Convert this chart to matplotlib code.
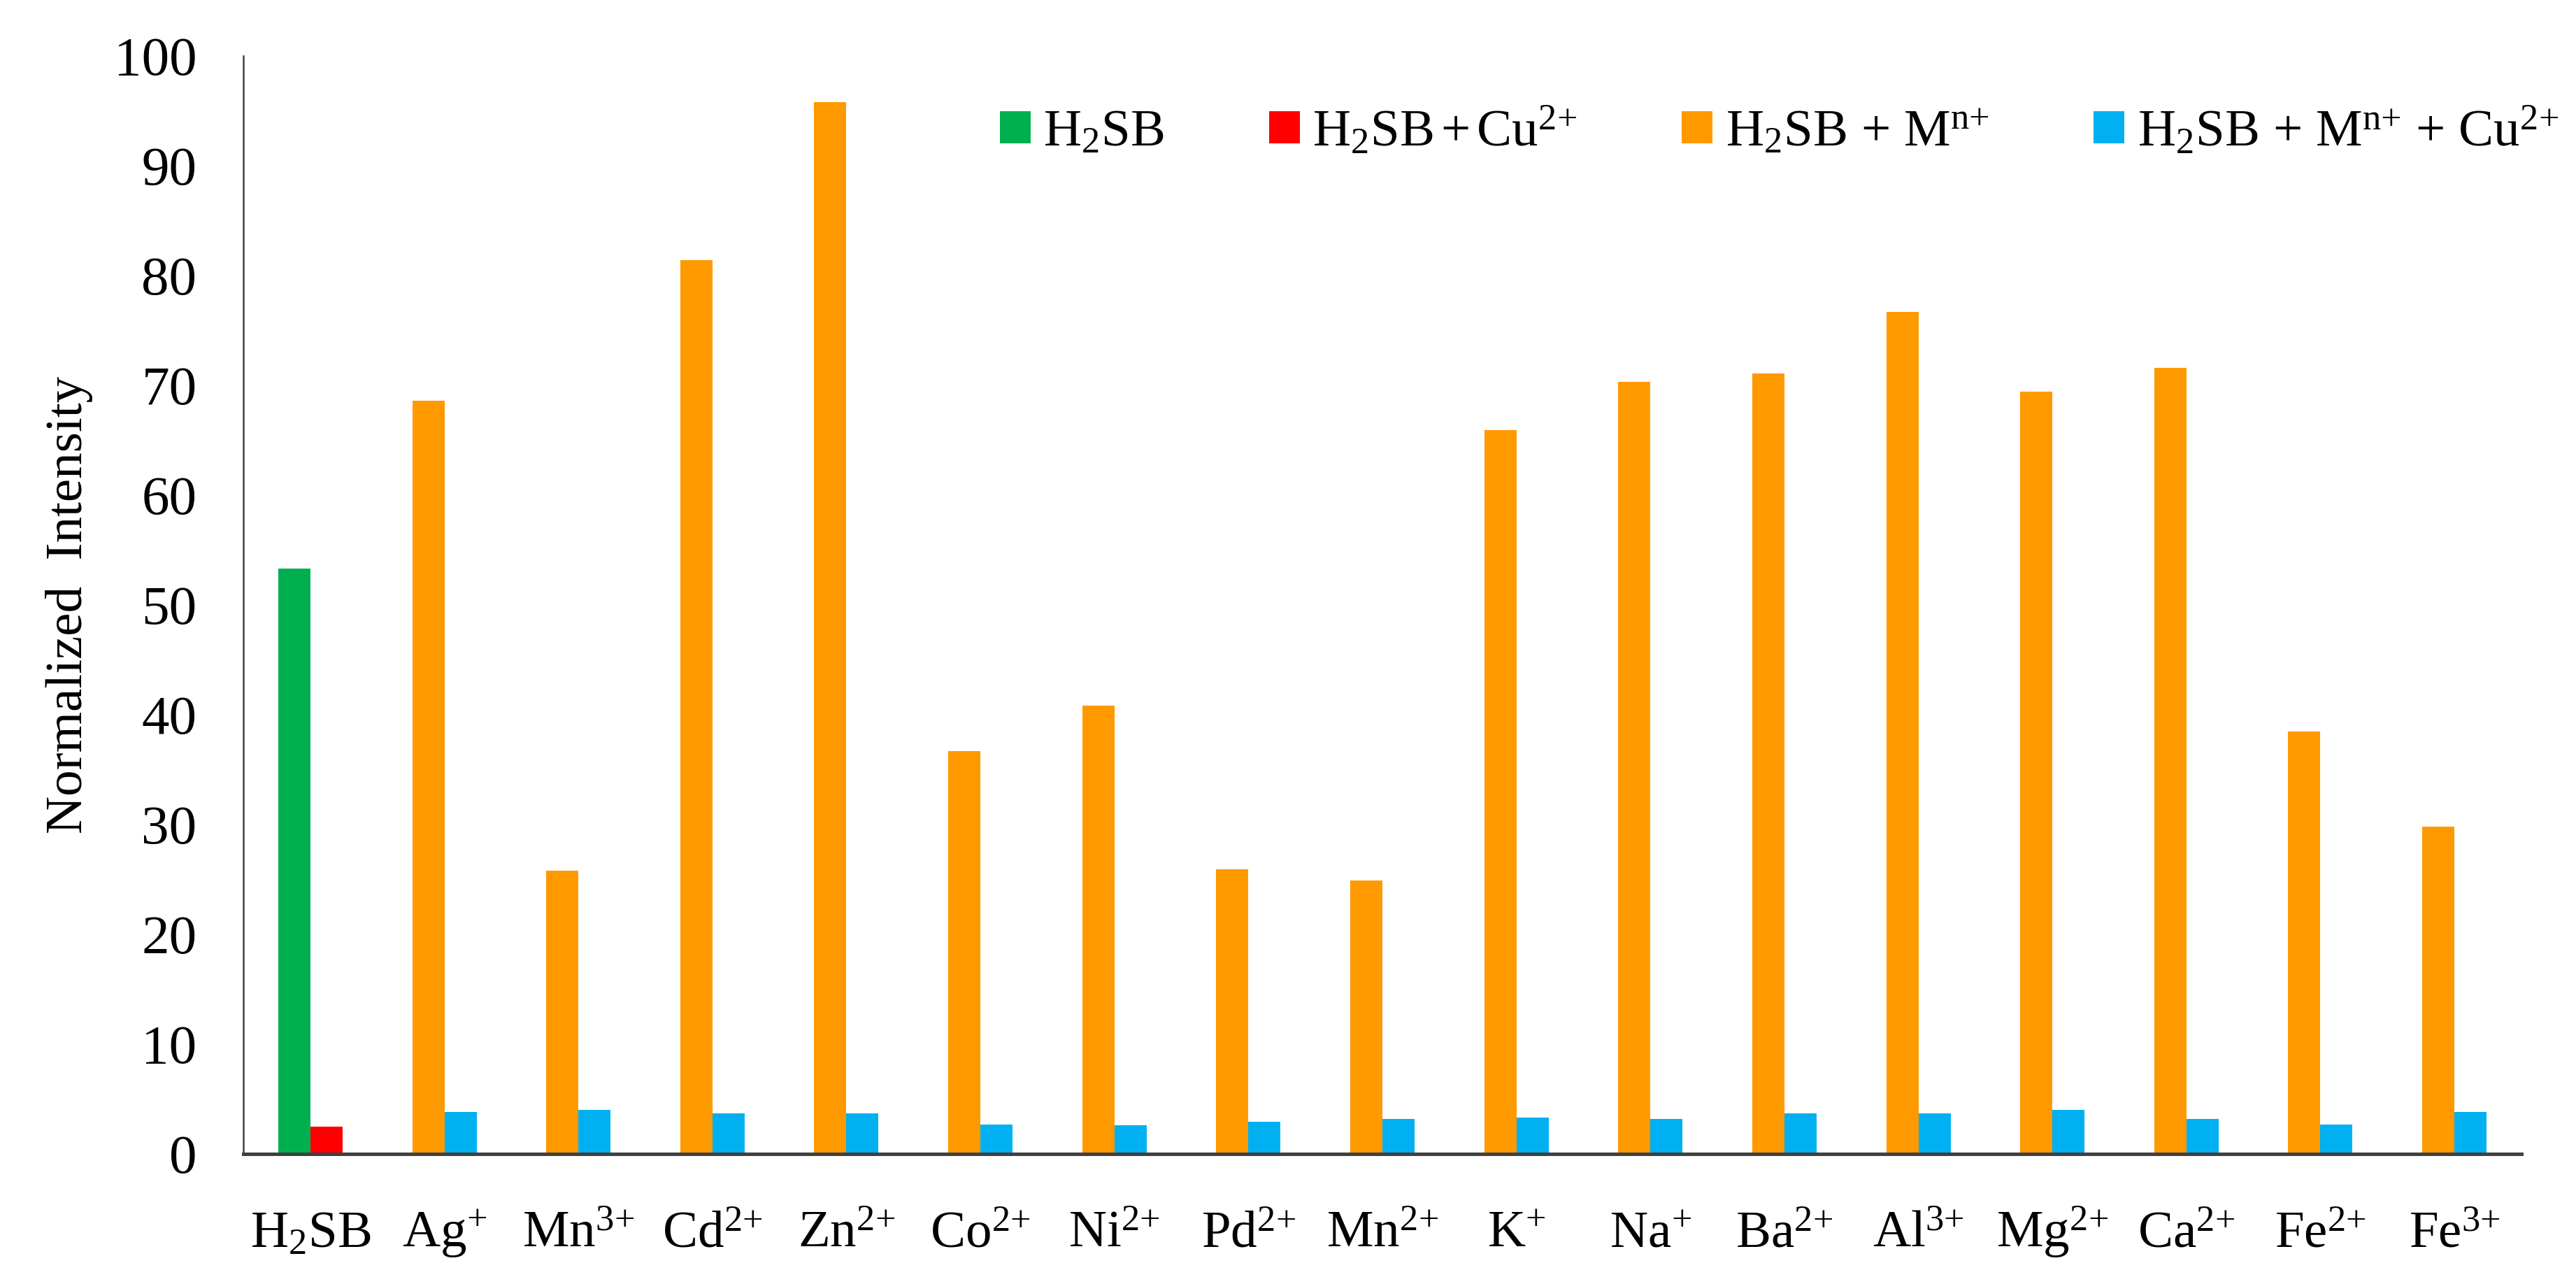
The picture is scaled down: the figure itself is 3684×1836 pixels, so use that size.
import matplotlib
matplotlib.use("Agg")
import matplotlib.pyplot as plt
import numpy as np

plt.rcParams['font.family'] = ['Liberation Serif', 'DejaVu Serif']
plt.rcParams['mathtext.fontset'] = 'custom'
plt.rcParams['mathtext.rm'] = 'Liberation Serif'
plt.rcParams['mathtext.it'] = 'Liberation Serif:italic'
plt.rcParams['mathtext.bf'] = 'Liberation Serif:bold'

categories = [r'H$_2$SB', r'Ag$^{+}$', r'Mn$^{3{+}}$', r'Cd$^{2{+}}$', r'Zn$^{2{+}}$', r'Co$^{2{+}}$',
              r'Ni$^{2{+}}$', r'Pd$^{2{+}}$', r'Mn$^{2{+}}$', r'K$^{+}$', r'Na$^{+}$', r'Ba$^{2{+}}$',
              r'Al$^{3{+}}$', r'Mg$^{2{+}}$', r'Ca$^{2{+}}$', r'Fe$^{2{+}}$', r'Fe$^{3{+}}$']

h2sb = [53.3] + [np.nan] * 16
h2sb_cu = [2.5] + [np.nan] * 16
h2sb_m = [np.nan, 68.6, 25.8, 81.4, 95.8, 36.7, 40.8, 25.9, 24.9, 65.9, 70.3, 71.1,
          76.7, 69.4, 71.6, 38.5, 29.8]
h2sb_m_cu = [np.nan, 3.8, 4.0, 3.7, 3.7, 2.7, 2.6, 2.9, 3.2, 3.3, 3.2, 3.7,
             3.7, 4.0, 3.2, 2.7, 3.8]

labels = [r'H$_2$SB', r'H$_2$SB$\,$+$\,$Cu$^{2{+}}$', r'H$_2$SB + M$^{\mathrm{n}{+}}$',
          r'H$_2$SB + M$^{\mathrm{n}{+}}$ + Cu$^{2{+}}$']
colors = ['#00B050', '#FF0000', '#FF9900', '#00B0F0']

fig = plt.figure(figsize=(12.28, 6.12), dpi=300)
ax = fig.add_axes([0.0945, 0.1013, 0.9788 - 0.0945, 0.9564 - 0.1013])

x = np.arange(len(categories))
w = 0.24
b1 = ax.bar(x - w / 2, h2sb, w, color=colors[0], label=labels[0])
b2 = ax.bar(x + w / 2, h2sb_cu, w, color=colors[1], label=labels[1])
b3 = ax.bar(x - w / 2, h2sb_m, w, color=colors[2], label=labels[2])
b4 = ax.bar(x + w / 2, h2sb_m_cu, w, color=colors[3], label=labels[3])

ax.set_xlim(-0.5, len(categories) - 0.5)
ax.set_ylim(0, 100)
ax.set_yticks(np.arange(0, 101, 10))
ax.set_xticks(x)
ax.set_xticklabels(categories, fontsize=18)
for lbl in ax.get_xticklabels():
    lbl.set_va('baseline')
ax.tick_params(axis='y', labelsize=19, length=0, pad=16)
ax.tick_params(axis='x', length=0, pad=32)

for s in ['top', 'right']:
    ax.spines[s].set_visible(False)
ax.spines['left'].set_color('#404040')
ax.spines['left'].set_linewidth(0.6)
ax.spines['bottom'].set_color('#404040')
ax.spines['bottom'].set_linewidth(1.2)

ax.set_ylabel('Normalized  Intensity', fontsize=18)
ax.yaxis.set_label_coords(-0.066, 0.5)

fig.legend(handles=[b1, b2, b3, b4], labels=labels, loc='center left',
           bbox_to_anchor=(1430 / 3684, 1 - 188 / 1836), ncol=4, frameon=False,
           fontsize=18, handlelength=0.58, handleheight=0.58, handletextpad=0.25,
           columnspacing=2.0, borderpad=0, borderaxespad=0)

fig.savefig('out.png', dpi=300)
